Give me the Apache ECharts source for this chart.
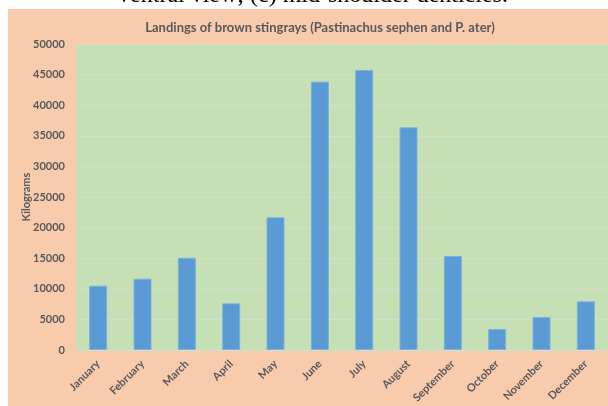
<!DOCTYPE html>
<html>
<head>
<meta charset="utf-8">
<script src="https://cdn.jsdelivr.net/npm/echarts@6/dist/echarts.min.js"></script>
<style>
html,body{margin:0;padding:0;background:#fff;}
#c{width:608px;height:406px;}
</style>
</head>
<body>
<div id="c"></div>
<script>
var months = ['January','February','March','April','May','June','July','August','September','October','November','December'];
var landings = [10500, 11650, 15080, 7630, 21680, 43850, 45750, 36400, 15360, 3430, 5390, 7950];
var yTicks = [0, 5000, 10000, 15000, 20000, 25000, 30000, 35000, 40000, 45000, 50000];
var titleText = 'Landings of brown stingrays (Pastinachus sephen and P. ater)';
var yName = 'Kilograms';
var captionText = 'ventral view; (c) mid-shoulder denticles.';

var chart = echarts.init(document.getElementById('c'), null, {renderer:'canvas'});
var font = 'Lato, "Open Sans", sans-serif';
chart.setOption({
  backgroundColor: '#ffffff',
  animation: false,
  graphic: [
    {type:'rect', z:-10, shape:{x:8, y:9, width:600, height:397}, style:{fill:'#f8cbad'}},
    {type:'text', z:10, x:313, y:8, style:{text:captionText, font:'24px "Liberation Serif", "DejaVu Serif", serif', fill:'#000', align:'center', verticalAlign:'bottom'}}
  ],
  title: {
    text: titleText,
    left: 315, top: 16, textAlign: 'center',
    textStyle: {fontFamily: font, fontSize: 13, fontWeight: 'bold', color: '#595959'}
  },
  grid: {left: 76, top: 44, right: -6, bottom: 56, show: true, backgroundColor: '#c5e0b4', borderWidth: 0},
  xAxis: {
    type: 'category', data: months,
    axisLine: {show: false}, axisTick: {show: false},
    axisLabel: {rotate: 45, margin: 12, color: '#595959', fontFamily: font, fontSize: 11, fontWeight: 'bold'}
  },
  yAxis: {
    type: 'value', min: 0, max: 50000, interval: 5000,
    name: yName, nameLocation: 'middle', nameGap: 44, nameRotate: 90, nameMoveOverlap: false,
    nameTextStyle: {color: '#595959', fontFamily: font, fontSize: 11, fontWeight: 'bold'},
    axisLine: {show: false}, axisTick: {show: false},
    axisLabel: {margin: 11, color: '#595959', fontFamily: font, fontSize: 11, fontWeight: 'bold',
      formatter: function(v){ return yTicks.indexOf(v) >= 0 ? String(v) : ''; }},
    splitLine: {lineStyle: {color: '#d6dccf', width: 1}}
  },
  series: [{
    type: 'bar', data: landings, barWidth: 18,
    itemStyle: {color: '#5b9bd5', borderColor: '#7eb0dd', borderWidth: 1}
  }]
});
</script>
</body>
</html>
